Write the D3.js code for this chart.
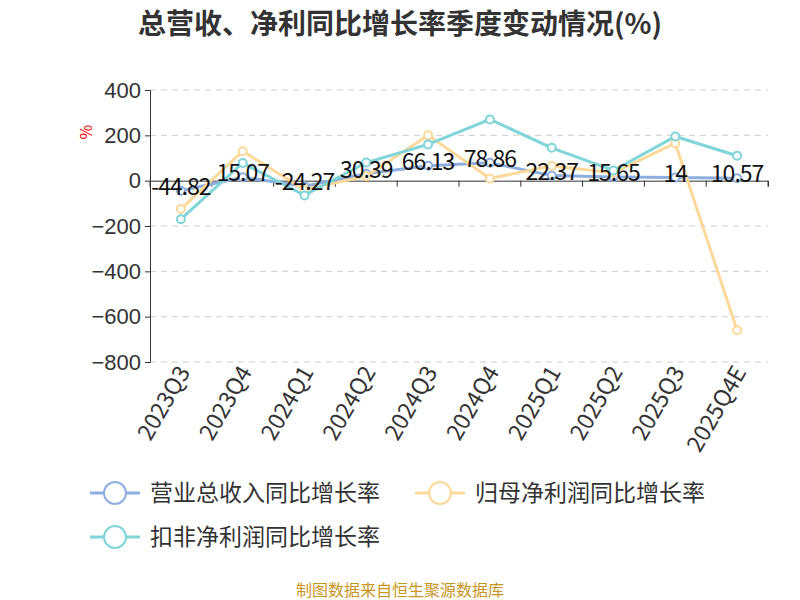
<!DOCTYPE html>
<html><head><meta charset="utf-8">
<script src="https://cdn.jsdelivr.net/npm/d3@7"></script>
<style>body{margin:0;background:#fff;font-family:"Noto Sans CJK SC","Noto Sans",sans-serif}</style>
</head><body><svg id="chart" width="800" height="600"></svg>
<script>
const quarters = ["2023Q3","2023Q4","2024Q1","2024Q2","2024Q3","2024Q4","2025Q1","2025Q2","2025Q3","2025Q4E"];
const revenueGrowth = [-44.82,15.07,-24.27,30.39,66.13,78.86,22.37,15.65,14,10.57];
const netProfitGrowth = [-125,130,-40,20,200,10,65,35,165,-660];
const deductedGrowth = [-170,78,-65,80,160,270,145,45,195,110];
const yTicks = [400,200,0,-200,-400,-600,-800];
const seriesNames = ["营业总收入同比增长率","归母净利润同比增长率","扣非净利润同比增长率"];
const colors = ["#8eaee0","#fdd898","#7fd5d7"];

const svg = d3.select("#chart");
const x = d3.scaleBand().domain(quarters).range([150,768]);
const y = d3.scaleLinear().domain([-800,400]).range([362,90]);
const cx = d => x(d) + x.bandwidth()/2;

svg.append("text").attr("x",400).attr("y",34).attr("text-anchor","middle")
  .style("font-size","28px").style("font-weight","bold").style("fill","#333")
  .text("总营收、净利同比增长率季度变动情况(%)");

// grid
svg.append("g").selectAll("line").data(yTicks.filter(t=>t!==0)).join("line")
  .attr("x1",150).attr("x2",768).attr("y1",d=>y(d)).attr("y2",d=>y(d))
  .attr("stroke","#ccc").attr("stroke-dasharray","6,5");

const yAxis = svg.append("g").attr("transform","translate(150,0)")
  .call(d3.axisLeft(y).tickValues(yTicks).tickSize(5).tickPadding(4));
yAxis.selectAll("text").style("font-size","22px").style("fill","#333");
yAxis.selectAll("line,path").attr("stroke","#333");

const xAxis = svg.append("g").attr("transform",`translate(0,${y(0)})`)
  .call(d3.axisBottom(x).tickSize(6).tickFormat(""));
xAxis.selectAll("line,path").attr("stroke","#333");
xAxis.selectAll(".tick line").attr("transform",`translate(${-x.bandwidth()/2},0)`);
svg.append("line").attr("x1",768).attr("x2",768).attr("y1",y(0)).attr("y2",y(0)+6).attr("stroke","#333");

svg.append("g").selectAll("text").data(quarters).join("text")
  .attr("transform",d=>`translate(${cx(d)+10},${372}) rotate(-60)`)
  .attr("text-anchor","end").style("font-size","23px").style("fill","#333").text(d=>d);

svg.append("text").attr("transform","translate(92,132) rotate(-90)").attr("text-anchor","middle")
  .style("font-size","16px").style("fill","red").text("%");

const line = d3.line().x((d,i)=>cx(quarters[i])).y(d=>y(d));
[revenueGrowth,netProfitGrowth,deductedGrowth].forEach((s,k)=>{
  svg.append("path").datum(s).attr("d",line).attr("fill","none")
    .attr("stroke",colors[k]).attr("stroke-width",3);
  svg.append("g").selectAll("circle").data(s).join("circle")
    .attr("cx",(d,i)=>cx(quarters[i])).attr("cy",d=>y(d)).attr("r",4)
    .attr("fill","#fff").attr("stroke",colors[k]).attr("stroke-width",2);
});

svg.append("g").selectAll("text").data(revenueGrowth).join("text")
  .attr("x",(d,i)=>cx(quarters[i])).attr("y",d=>y(d)-4).attr("dy","0.35em")
  .attr("text-anchor","middle").style("font-size","23px").style("letter-spacing","-1px")
  .style("fill","#111").text(d=>d);

const legendPos = [[90,493],[415,493],[90,537]];
seriesNames.forEach((n,k)=>{
  const g = svg.append("g").attr("transform",`translate(${legendPos[k][0]},${legendPos[k][1]})`);
  g.append("line").attr("x1",0).attr("x2",50).attr("stroke",colors[k]).attr("stroke-width",3);
  g.append("circle").attr("cx",25).attr("r",11).attr("fill","#fff").attr("stroke",colors[k]).attr("stroke-width",2);
  g.append("text").attr("x",60).attr("dy","0.35em").style("font-size","23px").style("fill","#333").text(n);
});

svg.append("text").attr("x",400).attr("y",596).attr("text-anchor","middle")
  .style("font-size","16px").style("fill","#c8961e").text("制图数据来自恒生聚源数据库");
</script></body></html>
